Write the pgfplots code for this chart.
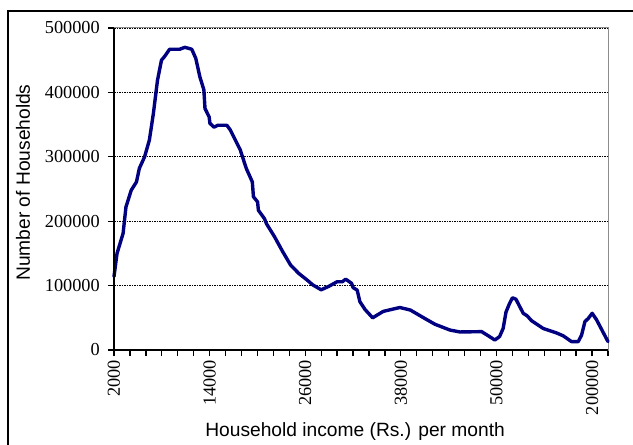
\documentclass[border=0pt]{standalone}
\usepackage{fontspec}
\setmainfont{Liberation Sans}
\newfontfamily\timesf{Liberation Serif}
\usepackage{pgfplots}
\pgfplotsset{compat=1.18}
\definecolor{curve}{HTML}{000080}
\begin{document}
\begin{tikzpicture}
\begin{axis}[
  at={(114bp,95bp)}, anchor=south west,
  width=494bp, height=322bp, scale only axis,
  xmin=0, xmax=31, ymin=0, ymax=500000,
  clip=false,
  scaled y ticks=false,
  axis line style={draw=gray!90, line width=1bp},
  xtick={0,6,12,18,24,30},
  xticklabels={2000,14000,26000,38000,50000,200000},
  minor xtick={0,...,31},
  ytick={0,100000,200000,300000,400000,500000},
  yticklabels={0,100000,200000,300000,400000,500000},
  xtick pos=bottom, ytick pos=left,
  tick align=outside,
  major tick length=6bp, minor tick length=6bp,
  every tick/.style={black, line width=1.3bp},
  ymajorgrids,
  major grid style={black, line width=0.9bp, dash pattern=on 1.5bp off 1bp},
  ticklabel style={font=\timesf\fontsize{18.3bp}{20bp}\selectfont},
  xticklabel style={rotate=90, anchor=east, inner sep=0pt},
  xticklabel shift=4bp,
  yticklabel style={anchor=east, inner sep=0pt},
  yticklabel shift=8bp,
  xlabel={Household income (Rs.) per month},
  ylabel={Number of Households},
  label style={font=\fontsize{19.2bp}{22bp}\selectfont},
  xlabel style={at={(axis description cs:0.488,-0.252)}, anchor=center},
  ylabel style={at={(axis description cs:-0.184,0.52)}, anchor=center},
]
\addplot[curve, line width=3.4bp, line join=round, line cap=round] coordinates {
(0,114000) (0.19,150000) (0.57,181000) (0.75,222000) (1.08,248000) (1.41,261000)
(1.59,282000) (1.92,300000) (2.22,326000) (2.47,367000) (2.73,419000) (2.98,450000)
(3.18,456000) (3.49,467000) (4.12,467000) (4.45,470000) (4.88,467000) (5.13,453000)
(5.39,424000) (5.64,404000) (5.71,375000) (5.97,362000) (6.02,352000) (6.27,346000)
(6.52,349000) (7.08,349000) (7.29,342000) (7.92,311000) (8.30,282000) (8.68,261000)
(8.75,238000) (9.01,230000) (9.06,217000) (9.44,204000) (9.57,196000) (10.07,176000)
(10.58,153000) (11.08,132000) (11.59,119000) (12.10,109000) (12.48,101000) (13.0,93500)
(13.49,99000) (14.0,106000) (14.33,106000) (14.54,110000) (14.91,103500) (15.0,97000)
(15.26,93000) (15.43,75000) (15.75,63000) (16.23,50000) (16.9,60000) (17.94,66000)
(18.6,62000) (19.5,49000) (20.14,40000) (21.08,31000) (21.71,28000) (23.07,28500)
(23.49,22000) (23.9,15500) (24.2,21000) (24.42,33500) (24.6,59000) (24.8,71000)
(25.0,81000) (25.22,79000) (25.68,57000) (25.93,53000) (26.2,45500) (26.93,33500)
(27.77,26500) (28.19,22000) (28.71,13000) (29.13,13000) (29.34,23000) (29.55,44000)
(29.76,49000) (30.01,57000) (30.28,47000) (31.0,13000)
};
\draw[black, line width=2bp] (rel axis cs:0,1) -- (rel axis cs:0,0) -- (rel axis cs:1,0);
\end{axis}
\draw[black, line width=2bp] (8bp,-20bp) -- (8bp,434bp) -- (660bp,434bp);
\pgfresetboundingbox
\path[use as bounding box] (0,0) rectangle (633bp,445bp);
\end{tikzpicture}
\end{document}
